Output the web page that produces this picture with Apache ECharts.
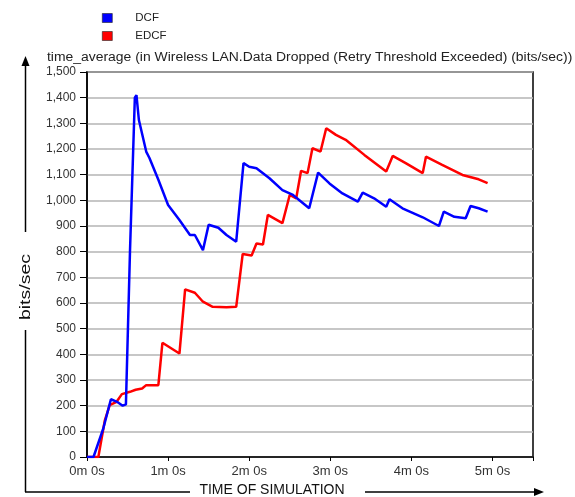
<!DOCTYPE html>
<html><head><meta charset="utf-8">
<script src="https://cdn.jsdelivr.net/npm/echarts@6/dist/echarts.min.js"></script>
<style>html,body{margin:0;padding:0;background:#fff}#c{width:575px;height:497px}</style>
</head><body><div id="c"></div>
<script>
// time in minutes of simulation, value in bits/sec
const dcfTime = [0, 0.08, 0.2, 0.295, 0.37, 0.44, 0.48, 0.53, 0.59, 0.61, 0.64, 0.73, 0.77, 0.88, 1.0, 1.14, 1.27, 1.33, 1.43, 1.50, 1.62, 1.72, 1.84, 1.93, 2.0, 2.09, 2.25, 2.41, 2.54, 2.74, 2.85, 2.99, 3.15, 3.34, 3.40, 3.54, 3.69, 3.73, 3.89, 4.14, 4.34, 4.40, 4.53, 4.67, 4.73, 4.83, 4.94];
const dcfValue = [0, 0, 110, 225, 215, 200, 205, 800, 1400, 1410, 1313, 1190, 1165, 1080, 982, 923, 865, 865, 806, 905, 893, 865, 839, 1145, 1131, 1125, 1086, 1040, 1021, 969, 1108, 1066, 1027, 995, 1030, 1008, 975, 1004, 969, 934, 900, 956, 936, 930, 978, 969, 956];
const edcfTime = [0, 0.14, 0.22, 0.28, 0.365, 0.43, 0.53, 0.60, 0.68, 0.73, 0.88, 0.93, 1.14, 1.21, 1.33, 1.43, 1.55, 1.72, 1.84, 1.92, 2.03, 2.09, 2.17, 2.23, 2.41, 2.50, 2.58, 2.64, 2.72, 2.78, 2.88, 2.95, 3.07, 3.19, 3.42, 3.69, 3.77, 3.93, 4.14, 4.18, 4.38, 4.63, 4.83, 4.94];
const edcfValue = [0, 0, 143, 202, 215, 245, 254, 262, 267, 280, 280, 445, 403, 653, 640, 605, 585, 583, 585, 791, 785, 832, 828, 943, 911, 1021, 1008, 1115, 1106, 1203, 1190, 1281, 1255, 1236, 1177, 1112, 1173, 1145, 1106, 1170, 1138, 1099, 1082, 1067];
const xTickLabels = ['0m 0s', '1m 0s', '2m 0s', '3m 0s', '4m 0s', '5m 0s'];
const seriesNames = ['DCF', 'EDCF'];
const titleText = 'time_average (in Wireless LAN.Data Dropped (Retry Threshold Exceeded) (bits/sec))';
const yAxisName = 'bits/sec';
const xAxisName = 'TIME OF SIMULATION';

function zip(a, b) { return a.map((t, i) => [t, b[i]]); }

const chart = echarts.init(document.getElementById('c'), null, {renderer: 'canvas'});
const font = 'Liberation Sans, Arial, sans-serif';
chart.setOption({
  animation: false,
  backgroundColor: '#fff',
  legend: {
    orient: 'vertical', left: 102, top: 12, padding: 0, itemWidth: 10, itemHeight: 9, itemGap: 6,
    icon: 'rect', data: seriesNames,
    textStyle: {fontSize: 11.5, color: '#222', fontFamily: font, padding: [0, 0, 0, 18]},
    itemStyle: {borderColor: '#222', borderWidth: 0.6}
  },
  grid: {left: 87, right: 42, top: 72, bottom: 40, show: true, borderColor: '#000', borderWidth: 1.5, backgroundColor: 'transparent'},
  xAxis: {
    type: 'value', min: 0, max: 5.5, interval: 1,
    axisLine: {show: true, lineStyle: {color: '#000', width: 1.5}},
    axisTick: {show: true, length: 4, lineStyle: {color: '#000'}},
    splitLine: {show: false},
    axisLabel: {
      fontSize: 13, color: '#333', fontFamily: font, margin: 8,
      formatter: v => (Number.isInteger(v) && xTickLabels[v] !== undefined) ? xTickLabels[v] : ''
    }
  },
  yAxis: {
    type: 'value', min: 0, max: 1500, interval: 100,
    axisLine: {show: true, lineStyle: {color: '#000', width: 1.5}},
    axisTick: {show: true, length: 7, lineStyle: {color: '#000'}},
    splitLine: {show: true, lineStyle: {color: '#b4b4b4', width: 1.5}},
    axisLabel: {fontSize: 12, color: '#333', fontFamily: font, margin: 11,
      formatter: v => v.toLocaleString('en-US')}
  },
  series: [
    {name: seriesNames[0], type: 'line', data: zip(dcfTime, dcfValue), symbol: 'none', color: '#0000ff',
     lineStyle: {color: '#0000ff', width: 2.5}, z: 3},
    {name: seriesNames[1], type: 'line', data: zip(edcfTime, edcfValue), symbol: 'none', color: '#ff0000',
     lineStyle: {color: '#ff0000', width: 2.5}, z: 2}
  ],
  graphic: [
    {type: 'text', x: 47, y: 52, scaleX: 1.16,
     style: {text: titleText, fontSize: 12, fill: '#222', fontFamily: font, align: 'left', verticalAlign: 'top'}},
    {type: 'line', shape: {x1: 25.5, y1: 492, x2: 25.5, y2: 330}, style: {stroke: '#000', lineWidth: 1.5}},
    {type: 'line', shape: {x1: 25.5, y1: 232, x2: 25.5, y2: 64}, style: {stroke: '#000', lineWidth: 1.5}},
    {type: 'polygon', shape: {points: [[25.5, 56], [21.5, 66], [29.5, 66]]}, style: {fill: '#000'}},
    {type: 'text', x: 26, y: 287, rotation: Math.PI / 2, scaleX: 1.3,
     style: {text: yAxisName, fontSize: 15, fill: '#111', fontFamily: font, align: 'center', verticalAlign: 'middle'}},
    {type: 'line', shape: {x1: 25, y1: 492, x2: 190, y2: 492}, style: {stroke: '#000', lineWidth: 1.5}},
    {type: 'line', shape: {x1: 365, y1: 492, x2: 536, y2: 492}, style: {stroke: '#000', lineWidth: 1.5}},
    {type: 'polygon', shape: {points: [[544, 492], [534, 488], [534, 496]]}, style: {fill: '#000'}},
    {type: 'text', x: 272, y: 490,
     style: {text: xAxisName, fontSize: 14, fill: '#111', fontFamily: font, align: 'center', verticalAlign: 'middle'}}
  ]
});
</script>
</body></html>
